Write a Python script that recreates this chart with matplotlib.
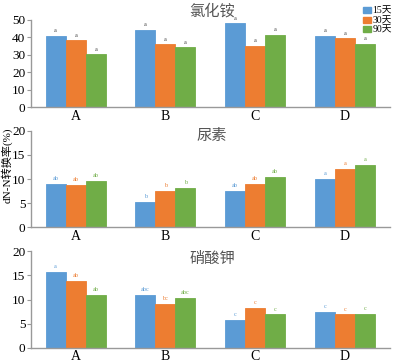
import numpy as np
import matplotlib.pyplot as plt
from matplotlib.patches import Patch

plt.rcParams['font.family'] = ['Liberation Serif', 'Noto Sans CJK SC']

groups = ['A', 'B', 'C', 'D']
series = ['15天', '30天', '90天']
colors = ['#5B9BD5', '#ED7D31', '#70AD47']

# 氯化铵
nh4cl = [[41, 44.5, 48, 40.8],
         [38.3, 36, 35, 39.5],
         [30.2, 34.3, 41.3, 36.2]]
nh4cl_sig = [['a', 'a', 'a', 'a'],
             ['a', 'a', 'a', 'a'],
             ['a', 'a', 'a', 'a']]

# 尿素
urea = [[8.9, 5.2, 7.5, 10.0],
        [8.8, 7.6, 9.0, 12.0],
        [9.6, 8.1, 10.5, 13.0]]
urea_sig = [['ab', 'b', 'ab', 'a'],
            ['ab', 'b', 'ab', 'a'],
            ['ab', 'b', 'ab', 'a']]

# 硝酸钾
kno3 = [[15.7, 11.0, 5.8, 7.4],
        [13.8, 9.0, 8.3, 6.9],
        [10.9, 10.3, 6.9, 7.1]]
kno3_sig = [['a', 'abc', 'c', 'c'],
            ['ab', 'bc', 'c', 'c'],
            ['ab', 'abc', 'c', 'c']]

# title, values, letters, ymax, step, gray letters, axes box, title y
panels = [
    ('氯化铵', nh4cl, nh4cl_sig, 50, 10, True, [0.078, 0.704, 0.909, 0.241], 0.970),
    ('尿素', urea, urea_sig, 20, 5, False, [0.078, 0.372, 0.909, 0.267], 0.627),
    ('硝酸钾', kno3, kno3_sig, 20, 5, False, [0.078, 0.0395, 0.909, 0.266], 0.287),
]

fig = plt.figure(figsize=(3.95, 3.62), dpi=100)
x = np.arange(len(groups))
w = 0.223

for title, data, sig, ymax, step, gray_sig, pos, ty in panels:
    ax = fig.add_axes(pos)
    for i, vals in enumerate(data):
        xs = x + (i - 1) * w
        ax.bar(xs, vals, width=w, color=colors[i], edgecolor=colors[i],
               linewidth=0.6)
        for xi, v, s in zip(xs, vals, sig[i]):
            ax.text(xi, v + ymax * 0.03, s, ha='center', va='bottom',
                    fontsize=4.5, color='#444444' if gray_sig else colors[i])
    ax.set_xlim(-0.5, 3.5)
    ax.set_ylim(0, ymax)
    ax.set_yticks(np.arange(0, ymax + 1, step))
    ax.set_xticks(x)
    ax.set_xticklabels(groups)
    ax.tick_params(axis='x', length=0, labelsize=10, pad=2)
    ax.tick_params(axis='y', length=3, width=0.8, color='#999999',
                   labelsize=9.5, pad=1)
    for sp in ['top', 'right']:
        ax.spines[sp].set_visible(False)
    for sp in ['left', 'bottom']:
        ax.spines[sp].set_color('#999999')
        ax.spines[sp].set_linewidth(1.0)
    fig.text(0.537, ty, title, ha='center', va='center', fontsize=11,
             color='#555555', family=['Noto Sans CJK SC'])

fig.text(0.017, 0.544, 'dN-N转换率(%)', rotation=90, ha='center',
         va='center', fontsize=8)

handles = [Patch(color=c) for c in colors]
fig.legend(handles, series, loc='upper right', bbox_to_anchor=(1.01, 1.0),
           fontsize=7, frameon=False, handlelength=0.8, handleheight=0.6,
           handletextpad=0.2, labelspacing=0.05, borderpad=0.2)

fig.savefig('out.png', dpi=100)
